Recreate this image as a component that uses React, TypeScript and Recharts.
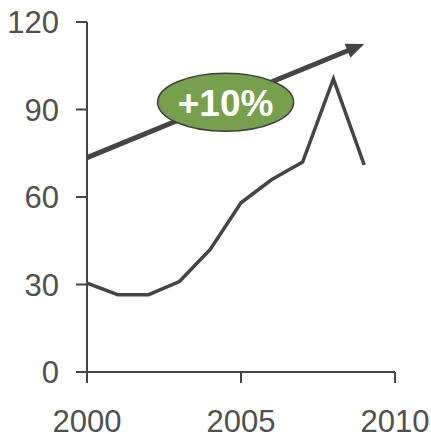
import React from 'react';
import {
  LineChart, Line, XAxis, YAxis, ReferenceLine, ReferenceDot,
} from 'recharts';

// values
const years = [2000, 2001, 2002, 2003, 2004, 2005, 2006, 2007, 2008, 2009];
const values = [30.5, 26.5, 26.5, 31, 42, 58, 66, 72, 100.5, 71];
const xTicks = [2000, 2005, 2010];
const yTicks = [0, 30, 60, 90, 120];
const trendStart = { x: 2000, y: 73.5 };
const trendEnd = { x: 2009, y: 112.5 };
const badge = { x: 2004.5, y: 92.5, text: '+10%' };

const data = years.map((year, i) => ({ year, value: values[i] }));

const INK = '#454545';
const FONT = 'Arial, "Liberation Sans", Helvetica, sans-serif';

// trend arrow: thick shaft + filled head at the end point
const Arrow = (props: any) => {
  const { x1, y1, x2, y2 } = props;
  const ang = Math.atan2(y2 - y1, x2 - x1);
  const len = 18;
  const half = 7.5;
  const bx = x2 - len * Math.cos(ang);
  const by = y2 - len * Math.sin(ang);
  const px = -Math.sin(ang) * half;
  const py = Math.cos(ang) * half;
  return (
    <g>
      <line x1={x1} y1={y1} x2={bx + 2 * Math.cos(ang)} y2={by + 2 * Math.sin(ang)} stroke={INK} strokeWidth={5} />
      <polygon points={`${x2},${y2} ${bx + px},${by + py} ${bx - px},${by - py}`} fill={INK} />
    </g>
  );
};

const Badge = (props: any) => {
  const { cx, cy } = props;
  return (
    <g>
      <ellipse cx={cx} cy={cy} rx={68} ry={29} fill="#76a04e" stroke="#3f3f3f" strokeWidth={1.5} />
      <text x={cx} y={cy} dy="0.36em" textAnchor="middle" fill="#ffffff"
        fontFamily={FONT} fontWeight="bold" fontSize={37}>
        {badge.text}
      </text>
    </g>
  );
};

export default function App() {
  return (
    <div style={{ position: 'absolute', left: 0, top: 0, background: '#fff' }}>
      <LineChart width={431} height={434} data={data}
        margin={{ top: 22, right: 36, left: 0, bottom: 0 }}>
        <XAxis dataKey="year" type="number" domain={[2000, 2010]} ticks={xTicks}
          height={62} tickSize={11} tickMargin={27} interval={0}
          stroke={INK} strokeWidth={2}
          tick={{ fill: '#505050', fontSize: 31, fontFamily: FONT }} />
        <YAxis type="number" domain={[0, 120]} ticks={yTicks} width={87}
          tickSize={11} tickMargin={17} interval={0}
          stroke={INK} strokeWidth={2}
          tick={{ fill: '#505050', fontSize: 31, fontFamily: FONT }} />
        <Line dataKey="value" stroke={INK} strokeWidth={3.5} dot={false}
          isAnimationActive={false} />
        <ReferenceLine segment={[trendStart, trendEnd]} shape={Arrow} ifOverflow="visible" />
        <ReferenceDot x={badge.x} y={badge.y} shape={Badge} ifOverflow="visible" />
      </LineChart>
    </div>
  );
}
